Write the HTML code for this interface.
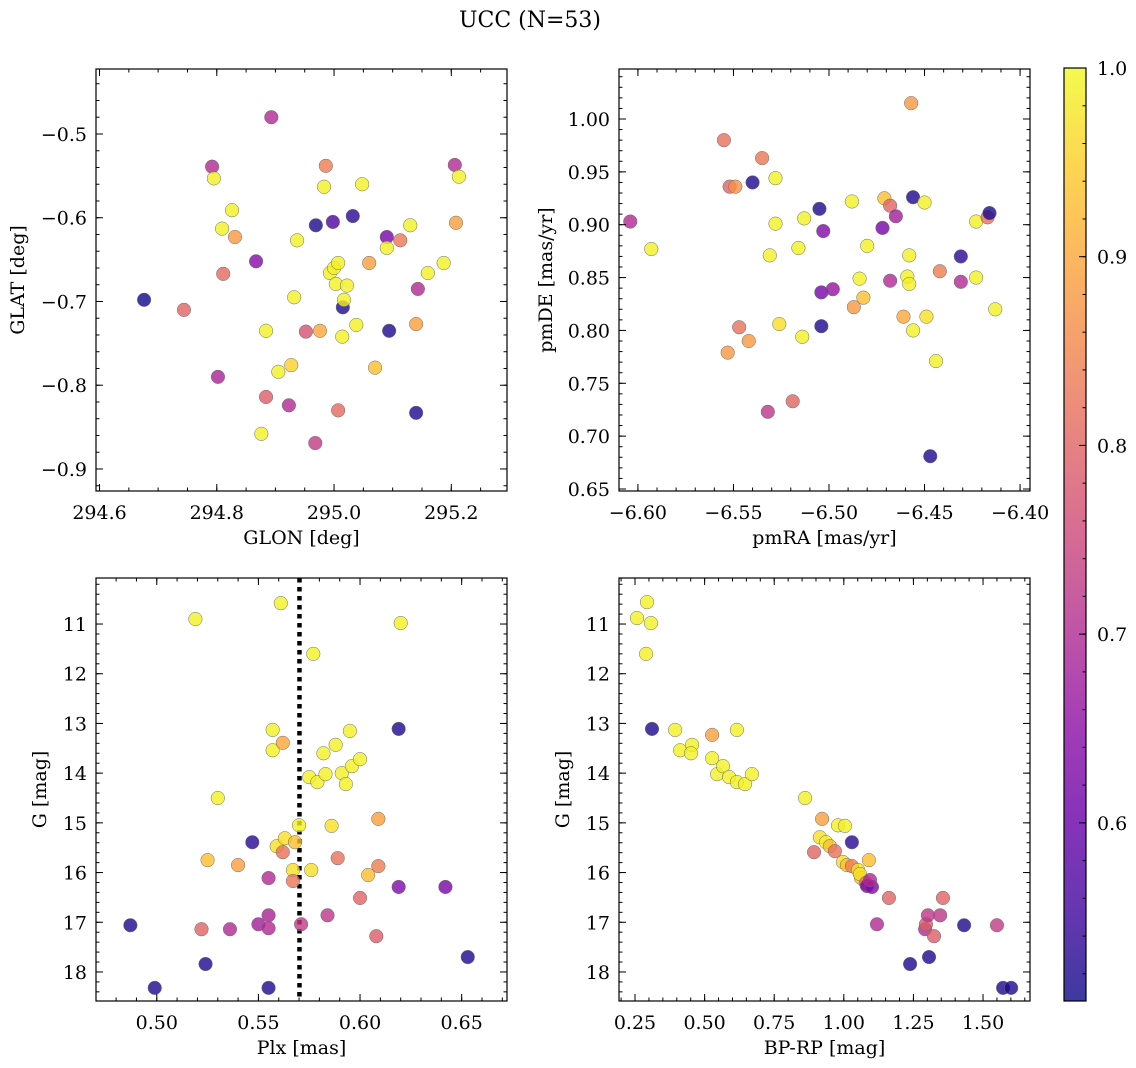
<!DOCTYPE html>
<html><head><meta charset="utf-8"><title>UCC (N=53)</title>
<style>
html,body{margin:0;padding:0;background:#fff;}
svg{display:block;font-family:"DejaVu Serif","Liberation Serif",serif;}
</style></head>
<body>
<svg id="fig" width="1136" height="1068" viewBox="0 0 1136 1068" xmlns="http://www.w3.org/2000/svg">
<rect width="1136" height="1068" fill="#fff"/>
<text x="530" y="27" font-size="22" text-anchor="middle">UCC (N=53)</text>
</svg>
<script>
// ---- Panel 1: GLON vs GLAT
const p1Glon=[294.676,294.744,294.792,294.795,294.809,294.811,294.826,294.831,294.802,294.893,294.867,294.876,294.884,294.884,294.905,294.923,294.927,294.932,294.937,294.952,294.968,294.969,294.976,294.983,294.986,294.993,294.998,295.000,295.003,295.007,295.007,295.014,295.015,295.017,295.022,295.032,295.038,295.048,295.060,295.070,295.090,295.094,295.090,295.113,295.130,295.140,295.140,295.143,295.160,295.187,295.206,295.213,295.208];
const p1Glat=[-0.698,-0.710,-0.539,-0.553,-0.613,-0.667,-0.591,-0.623,-0.790,-0.480,-0.652,-0.858,-0.735,-0.814,-0.784,-0.824,-0.776,-0.695,-0.627,-0.736,-0.869,-0.609,-0.735,-0.563,-0.538,-0.666,-0.605,-0.660,-0.679,-0.654,-0.830,-0.742,-0.707,-0.698,-0.681,-0.598,-0.728,-0.560,-0.654,-0.779,-0.623,-0.735,-0.636,-0.627,-0.609,-0.833,-0.727,-0.685,-0.666,-0.654,-0.537,-0.551,-0.606];
const p1Prob=[0.51,0.80,0.70,0.99,0.99,0.81,0.99,0.88,0.69,0.70,0.64,0.99,0.99,0.79,0.99,0.70,0.95,0.99,0.99,0.77,0.73,0.52,0.90,0.99,0.84,0.99,0.57,0.99,0.99,0.99,0.81,0.99,0.52,0.99,0.99,0.53,0.99,0.99,0.89,0.93,0.62,0.52,0.99,0.83,0.99,0.52,0.89,0.70,0.99,0.99,0.70,0.99,0.89];
// ---- Panel 2: pmRA vs pmDE
const p2PmRA=[-6.604,-6.593,-6.555,-6.552,-6.549,-6.540,-6.553,-6.547,-6.542,-6.535,-6.528,-6.531,-6.528,-6.526,-6.532,-6.519,-6.516,-6.513,-6.514,-6.505,-6.504,-6.504,-6.503,-6.498,-6.488,-6.484,-6.482,-6.487,-6.480,-6.472,-6.471,-6.468,-6.468,-6.465,-6.461,-6.459,-6.458,-6.458,-6.456,-6.457,-6.456,-6.450,-6.449,-6.447,-6.444,-6.442,-6.431,-6.431,-6.423,-6.423,-6.417,-6.416,-6.413];
const p2PmDE=[0.903,0.877,0.980,0.936,0.936,0.940,0.779,0.803,0.790,0.963,0.944,0.871,0.901,0.806,0.723,0.733,0.878,0.906,0.794,0.915,0.836,0.804,0.894,0.839,0.922,0.849,0.831,0.822,0.880,0.897,0.925,0.918,0.847,0.908,0.813,0.851,0.844,0.871,0.926,1.015,0.800,0.921,0.813,0.681,0.771,0.856,0.870,0.846,0.850,0.903,0.907,0.911,0.820];
const p2Prob=[0.70,0.99,0.82,0.80,0.87,0.52,0.88,0.82,0.88,0.83,0.99,0.99,0.99,0.97,0.72,0.80,0.99,0.99,0.99,0.52,0.62,0.52,0.63,0.66,0.99,0.99,0.93,0.88,0.99,0.62,0.93,0.80,0.70,0.68,0.90,0.99,0.99,0.99,0.52,0.88,0.99,0.99,0.97,0.52,0.99,0.84,0.53,0.70,0.99,0.99,0.82,0.52,0.99];
// ---- Panel 3: Plx vs G
const p3Plx=[0.487,0.499,0.519,0.524,0.522,0.525,0.530,0.536,0.540,0.547,0.550,0.555,0.555,0.555,0.555,0.557,0.557,0.559,0.561,0.562,0.562,0.563,0.567,0.567,0.568,0.570,0.571,0.575,0.576,0.577,0.579,0.582,0.583,0.584,0.586,0.588,0.589,0.591,0.593,0.595,0.596,0.600,0.600,0.604,0.608,0.609,0.609,0.619,0.619,0.620,0.642,0.653];
const p3G=[17.06,18.32,10.90,17.84,17.14,15.75,14.50,17.14,15.85,15.39,17.04,16.11,16.86,18.32,17.12,13.13,13.54,15.47,10.58,13.39,15.59,15.31,15.95,16.17,15.39,15.05,17.04,14.08,15.95,11.60,14.18,13.60,14.02,16.86,15.06,13.43,15.71,14.00,14.22,13.15,13.86,13.72,16.51,16.05,17.28,14.92,15.87,13.11,16.29,10.98,16.29,17.70];
const p3Prob=[0.52,0.52,0.99,0.52,0.80,0.93,0.99,0.70,0.89,0.53,0.68,0.70,0.69,0.52,0.70,0.99,0.99,0.97,0.99,0.90,0.82,0.97,0.97,0.83,0.93,0.99,0.73,0.99,0.97,0.99,0.99,0.99,0.99,0.72,0.97,0.99,0.82,0.99,0.99,0.99,0.99,0.99,0.80,0.93,0.79,0.89,0.84,0.52,0.63,0.99,0.62,0.52];
const plxCut=0.5702;
// ---- Panel 4: BP-RP vs G
const p4BpRp=[0.257,0.293,0.307,0.290,0.311,0.394,0.412,0.455,0.451,0.527,0.527,0.545,0.566,0.588,0.616,0.616,0.645,0.670,0.861,0.893,0.922,0.914,0.936,0.950,0.968,0.979,1.004,0.997,1.011,1.029,1.029,1.051,1.062,1.058,1.079,1.090,1.083,1.101,1.094,1.119,1.162,1.238,1.292,1.295,1.302,1.306,1.324,1.346,1.356,1.432,1.550,1.572,1.601];
const p4G=[10.88,10.56,10.98,11.60,13.11,13.13,13.54,13.43,13.60,13.23,13.70,14.02,13.86,14.08,14.18,13.13,14.22,14.02,14.50,15.59,14.92,15.29,15.39,15.47,15.57,15.05,15.06,15.79,15.85,15.39,15.87,15.95,16.11,16.03,16.21,15.75,16.27,16.29,16.15,17.04,16.51,17.84,17.14,17.04,16.86,17.70,17.28,16.86,16.51,17.06,17.06,18.32,18.32];
const p4Prob=[0.99,0.99,0.99,0.99,0.52,0.99,0.99,0.99,0.99,0.89,0.99,0.99,0.99,0.99,0.99,0.99,0.99,0.99,0.99,0.80,0.89,0.97,0.99,0.93,0.82,0.99,0.99,0.97,0.93,0.53,0.84,0.97,0.93,0.97,0.82,0.93,0.62,0.63,0.70,0.70,0.80,0.52,0.70,0.79,0.72,0.52,0.79,0.72,0.80,0.52,0.73,0.52,0.52];
// ---- tick labels
const p1XTicks=[294.6,294.8,295.0,295.2];
const p1YTicks=[-0.9,-0.8,-0.7,-0.6,-0.5];
const p2XTicks=[-6.60,-6.55,-6.50,-6.45,-6.40];
const p2YTicks=[0.65,0.70,0.75,0.80,0.85,0.90,0.95,1.00];
const p3XTicks=[0.50,0.55,0.60,0.65];
const gTicks=[11,12,13,14,15,16,17,18];
const p4XTicks=[0.25,0.50,0.75,1.00,1.25,1.50];
const cbTicks=[0.6,0.7,0.8,0.9,1.0];
const probMin=0.5056, probMax=1.0;

const FS=19;
const NS="http://www.w3.org/2000/svg";
const svg=document.getElementById('fig');
function mk(tag,attrs,parent){const e=document.createElementNS(NS,tag);for(const k in attrs)e.setAttribute(k,attrs[k]);(parent||svg).appendChild(e);return e;}
const plasma=["#0d0887","#41049d","#6a00a8","#8f0da4","#b12a90","#cc4778","#e16462","#f2844b","#fca636","#fcce25","#f0f921"];
function hex(h){return [parseInt(h.substr(1,2),16),parseInt(h.substr(3,2),16),parseInt(h.substr(5,2),16)];}
function cmap(p){let t=(p-probMin)/(probMax-probMin);t=Math.max(0,Math.min(1,t));const s=t*10;const i=Math.min(9,Math.floor(s));const f=s-i;const a=hex(plasma[i]),b=hex(plasma[i+1]);return 'rgb('+a.map((v,k)=>Math.round(v+(b[k]-v)*f)).join(',')+')';}
function fmt(v,d){return (v<0?'\u2212':'')+Math.abs(v).toFixed(d);}

function panel(cfg){
  const g=mk('g',{});
  
  
  const {x0,y0,w,h,xmin,xmax,ymin,ymax,invY}=cfg;
  const sx=v=>x0+(v-xmin)/(xmax-xmin)*w;
  const sy=invY? (v=>y0+(v-ymin)/(ymax-ymin)*h) : (v=>y0+h-(v-ymin)/(ymax-ymin)*h);
  const cid='clip'+cfg.name;
  const cp=mk('clipPath',{id:cid},g);mk('rect',{x:x0,y:y0,width:w,height:h},cp);
  const pg=mk('g',{'clip-path':'url(#'+cid+')'},g);
  if(cfg.vline!==undefined){
    const ln=mk('line',{x1:sx(cfg.vline),x2:sx(cfg.vline),y1:y0,y2:y0+h,stroke:'#000','stroke-width':4.5,'stroke-dasharray':'4.5,4.5'},pg);
    
    
  }
  for(let i=0;i<cfg.xs.length;i++){
    const c=mk('circle',{cx:sx(cfg.xs[i]),cy:sy(cfg.ys[i]),r:6.8,fill:cmap(cfg.ps[i]),'fill-opacity':0.8,stroke:'#6b6b6b','stroke-width':0.5},pg);
    
    
  }
  mk('rect',{x:x0,y:y0,width:w,height:h,fill:'none',stroke:'#000','stroke-width':1.2},g);
  const tk=(x1,y1,x2,y2)=>mk('line',{x1,y1,x2,y2,stroke:'#000','stroke-width':1},g);
  const eps=1e-9;
  for(let v=Math.ceil(xmin/cfg.xMinor-eps)*cfg.xMinor;v<=xmax+eps;v+=cfg.xMinor){const X=sx(v);tk(X,y0+h,X,y0+h-3.5);tk(X,y0,X,y0+3.5);}
  for(let v=Math.ceil(ymin/cfg.yMinor-eps)*cfg.yMinor;v<=ymax+eps;v+=cfg.yMinor){const Y=sy(v);tk(x0,Y,x0+3.5,Y);tk(x0+w,Y,x0+w-3.5,Y);}
  cfg.xt.forEach(v=>{const X=sx(v);tk(X,y0+h,X,y0+h-7);tk(X,y0,X,y0+7);
    const t=mk('text',{x:X,y:y0+h+28,'font-size':FS,'text-anchor':'middle'},g);t.textContent=fmt(v,cfg.xd);
    });
  cfg.yt.forEach(v=>{const Y=sy(v);tk(x0,Y,x0+7,Y);tk(x0+w,Y,x0+w-7,Y);
    const t=mk('text',{x:x0-9,y:Y+7,'font-size':FS,'text-anchor':'end'},g);t.textContent=fmt(v,cfg.yd);
    });
  const xl=mk('text',{x:x0+w/2,y:y0+h+53,'font-size':FS,'text-anchor':'middle'},g);xl.textContent=cfg.xlabel;
  
  const yl=mk('text',{x:0,y:0,'font-size':FS,'text-anchor':'middle',transform:'translate('+cfg.ylx+','+(y0+h/2)+') rotate(-90)'},g);yl.textContent=cfg.ylabel;
  
}

panel({name:'glon-glat-panel',x0:96,y0:69,w:411,h:422,xmin:294.594,xmax:295.295,ymin:-0.9263,ymax:-0.4224,xs:p1Glon,ys:p1Glat,ps:p1Prob,xt:p1XTicks,yt:p1YTicks,xd:1,yd:1,xMinor:0.05,yMinor:0.02,xlabel:'GLON [deg]',ylabel:'GLAT [deg]',ylx:24});
panel({name:'pm-panel',x0:619,y0:69,w:411,h:422,xmin:-6.6099,xmax:-6.3948,ymin:0.6481,ymax:1.0473,xs:p2PmRA,ys:p2PmDE,ps:p2Prob,xt:p2XTicks,yt:p2YTicks,xd:2,yd:2,xMinor:0.01,yMinor:0.01,xlabel:'pmRA [mas/yr]',ylabel:'pmDE [mas/yr]',ylx:552});
panel({name:'plx-g-panel',x0:96,y0:578,w:411,h:423,xmin:0.4701,xmax:0.6723,ymin:10.074,ymax:18.584,invY:true,xs:p3Plx,ys:p3G,ps:p3Prob,xt:p3XTicks,yt:gTicks,xd:2,yd:0,xMinor:0.01,yMinor:0.2,xlabel:'Plx [mas]',ylabel:'G [mag]',ylx:46,vline:plxCut});
panel({name:'cmd-panel',x0:619,y0:578,w:411,h:423,xmin:0.1925,xmax:1.6687,ymin:10.074,ymax:18.584,invY:true,xs:p4BpRp,ys:p4G,ps:p4Prob,xt:p4XTicks,yt:gTicks,xd:2,yd:0,xMinor:0.05,yMinor:0.2,xlabel:'BP-RP [mag]',ylabel:'G [mag]',ylx:569});

// ---- colorbar
(function(){
  const cx=1064,cy=68,cw=22,ch=933;
  const g=mk('g',{});
  
  
  const defs=mk('defs',{},g);
  const lg=mk('linearGradient',{id:'cbgrad',x1:0,y1:1,x2:0,y2:0},defs);
  for(let i=0;i<=20;i++){const p=probMin+(probMax-probMin)*i/20;mk('stop',{offset:(i/20),'stop-color':cmap(p),'stop-opacity':0.8},lg);}
  mk('rect',{x:cx,y:cy,width:cw,height:ch,fill:'url(#cbgrad)',stroke:'#000','stroke-width':1.2},g);
  const sy=v=>cy+ch-(v-probMin)/(probMax-probMin)*ch;
  for(let v=0.52;v<=1.0001;v+=0.02){const Y=sy(v);mk('line',{x1:cx+cw,x2:cx+cw-3.5,y1:Y,y2:Y,stroke:'#000','stroke-width':1},g);}
  cbTicks.forEach(v=>{const Y=sy(v);mk('line',{x1:cx+cw,x2:cx+cw-7,y1:Y,y2:Y,stroke:'#000','stroke-width':1},g);
    const t=mk('text',{x:cx+cw+11,y:Y+7,'font-size':FS},g);t.textContent=v.toFixed(1);
    });
})();
</script>
</body></html>
